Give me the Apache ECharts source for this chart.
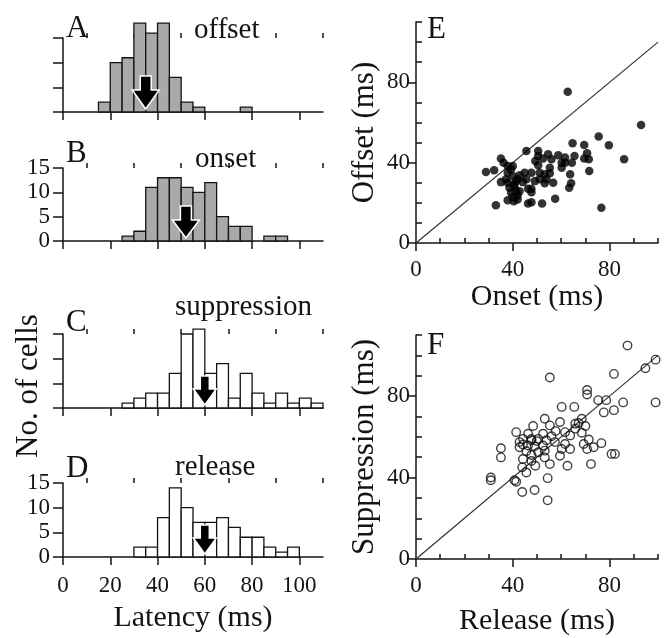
<!DOCTYPE html>
<html>
<head>
<meta charset="utf-8">
<script src="https://cdn.jsdelivr.net/npm/echarts@6/dist/echarts.min.js"></script>
<style>html,body{margin:0;padding:0;background:#fff}#chart{width:669px;height:638px}</style>
</head>
<body>
<div id="chart"></div>
<script>
// ---------- data ----------
const binStarts = [0,5,10,15,20,25,30,35,40,45,50,55,60,65,70,75,80,85,90,95,100,105];
const binWidth = 5;
const offsetCounts      = [0,0,0,2,10,11,18,16,18,7,2,1,0,0,0,1,0,0,0,0,0,0];
const onsetCounts       = [0,0,0,0,0,1,2,11,13,13,11,10,12,5,3,3,0,1,1,0,0,0];
const suppressionCounts = [0,0,0,0,0,1,2,3,3,7,15,16,7,9,2,7,3,1,3,1,2,1];
const releaseCounts     = [0,0,0,0,0,0,2,2,8,14,10,7,7,8,6,4,4,2,1,2,0,0];
const meanLatency = [35, 52, 60, 60]; // arrows: offset, onset, suppression, release
const panelNames = ['offset', 'onset', 'suppression', 'release'];
const panelLetters = ['A', 'B', 'C', 'D'];

const latencyMajorTicks = [0,20,40,60,80,100];
const latencyMinorTicks = [10,30,50,70,90,110];
const countTicks = [0,5,10,15];

const eOnset  = [62.7,93,75.5,79.7,86,64.7,69.5,70.7,71.4,69.5,71.6,76.6,63.7,64.1,63.3,57.5,52.1,47.7,46.3,33,40.4,42,37.9,45.6,50.5,50.5,54.6,58.8,61.6,65.5,64.4,60.2,56,52.5,49.3,50.5,55.3,55.3,53.9,51.1,56.7,53.2,44.9,45.6,49.1,47.7,46.3,47.7,44.2,41.4,40,37.9,35.1,36.2,40,39.3,37.9,28.9,32.3,35.1,37.9,40.7,41.4,39.3,42,40,38.6,37.2,42.8,47.7,60.2,61.6,53.2,51.1,42,40.4,42.8];
const eOffset = [75.3,58.7,53,48.7,41.7,49.7,48.8,44.7,41.7,42,35.8,17.5,34.2,29.7,27.5,22,19.7,20.3,19.7,18.8,20.8,21.7,21.3,45.8,45.8,43.3,44.2,43.7,42.5,43.3,40,40,41.7,42,40.8,38.7,37.5,34.7,31.7,31.7,30,29.7,35,31.7,30.8,27,27,25.3,30.3,30.8,33.3,35,42,40,38.3,36.7,38.3,35.3,36.2,30.3,30,28.3,25.8,25,23.7,22.8,27.5,31.7,33.7,35,37.5,40,34.2,35,31.7,29.2,25.8];

const fRelease     = [87.4,99,94.8,81.8,55.3,70.7,70.7,75.3,78.6,99,85.6,77.6,81.8,60.2,65.4,53.2,59.5,68.5,67.2,70,65.8,55.3,48.4,41.4,46.3,52.5,56,61.6,63.7,68.5,44.2,50.5,47.7,53.9,57.4,61.6,71.4,44.2,46.3,49,52.5,42.8,69.3,76.6,73.4,70.7,35.1,35.1,50.5,53.2,60.2,63.7,59.5,47.7,44.2,53.2,80.8,82.2,47.7,55.3,62.6,72.3,49.3,43.9,45.6,30.9,30.9,40.7,41.4,54.4,43.9,49,54.4,47.7,42.8,57.7,65.8,45.6,49.9];
const fSuppression = [104.8,97.9,93.7,90.9,89.1,83,80.8,78,78,76.9,76.9,72,73.1,74.7,74.7,68.9,67.3,68.9,66.8,65.3,66.4,65.6,65.3,62.3,61.5,61.5,60.3,62.3,60.7,62,59,59,58.3,58.3,57.4,56.5,58.7,56.2,55.7,55.4,55.7,54.9,56.5,56.9,54.9,54,54.4,49.9,52.4,53.2,54,54,50.7,51.1,49.1,49.9,51.6,51.6,48.1,46.6,45.8,46.6,45.8,45,42.5,40,38.7,38.7,37.9,39.7,32.9,33.9,28.8,59,57.4,62.8,64,52.9,57.9];

const identityLine = [0, 100];
const scatterMajorTicks = [0,40,80];
const scatterXMinorTicks = [10,20,30,50,60,70,90,100];
const scatterYMinorTicks = [10,20,30,50,60,70,90,100,110];

// ---------- layout / style ----------
const FONT = '"Liberation Serif", "DejaVu Serif", serif';
const INK = '#141414';
const histGrids = [
  {left: 63, top: 38, width: 260, height: 74},
  {left: 63, top: 168, width: 260, height: 73},
  {left: 63, top: 334, width: 260, height: 74},
  {left: 63, top: 483, width: 260, height: 74}
];
const scatGrids = [
  {left: 416, top: 22, width: 242, height: 221},
  {left: 416, top: 335, width: 242, height: 224}
];
const histCounts = [offsetCounts, onsetCounts, suppressionCounts, releaseCounts];

const grid = histGrids.concat(scatGrids);
const xAxis = [], yAxis = [], series = [];
const axisLine = {show: true, lineStyle: {color: INK, width: 1.5}};
const tickStyle = {color: INK, width: 1.5};

// histogram x axes: major (0-3), minor overlays (4-7)
for (let i = 0; i < 4; i++) {
  xAxis.push({
    gridIndex: i, type: 'value', min: 0, max: 110,
    axisLine: axisLine,
    axisTick: {show: true, customValues: latencyMajorTicks, length: 8, lineStyle: tickStyle},
    axisLabel: {show: i === 3, customValues: latencyMajorTicks, fontFamily: FONT, fontSize: 23, color: INK, margin: 17},
    splitLine: {show: false},
    name: i === 3 ? 'Latency (ms)' : '',
    nameLocation: 'middle', nameGap: 46,
    nameTextStyle: {fontFamily: FONT, fontSize: 30, color: INK}
  });
}
for (let i = 0; i < 4; i++) {
  xAxis.push({
    gridIndex: i, type: 'value', min: 0, max: 110,
    axisLine: {show: false},
    axisTick: {show: true, customValues: latencyMinorTicks, length: 5, lineStyle: tickStyle},
    axisLabel: {show: false},
    splitLine: {show: false}
  });
}
for (let i = 0; i < 4; i++) {
  yAxis.push({
    gridIndex: i, type: 'value', min: 0, max: 15, interval: 5,
    axisLine: axisLine,
    axisTick: {show: true, length: 10, lineStyle: tickStyle},
    axisLabel: {show: i === 1 || i === 3, fontFamily: FONT, fontSize: 23, color: INK, margin: 13, padding: [0,0,12,0]},
    splitLine: {show: false}
  });
}
// scatter axes: x major 8,9 ; x minor 10,11 ; y major 4,5 ; y minor 6,7
const scatXNames = ['Onset (ms)', 'Release (ms)'];
const scatYNames = ['Offset (ms)', 'Suppression (ms)'];
const scatXGap = [38, 47];
for (let k = 0; k < 2; k++) {
  xAxis.push({
    gridIndex: 4 + k, type: 'value', min: 0, max: 100,
    axisLine: axisLine,
    axisTick: {show: true, customValues: scatterMajorTicks, length: 8, lineStyle: tickStyle},
    axisLabel: {customValues: scatterMajorTicks, fontFamily: FONT, fontSize: 23, color: INK, margin: 15},
    splitLine: {show: false},
    name: scatXNames[k], nameLocation: 'middle', nameGap: scatXGap[k],
    nameTextStyle: {fontFamily: FONT, fontSize: 30, color: INK}
  });
}
for (let k = 0; k < 2; k++) {
  xAxis.push({
    gridIndex: 4 + k, type: 'value', min: 0, max: 100,
    axisLine: {show: false},
    axisTick: {show: true, customValues: scatterXMinorTicks, length: 5, lineStyle: tickStyle},
    axisLabel: {show: false}, splitLine: {show: false}
  });
}
for (let k = 0; k < 2; k++) {
  yAxis.push({
    gridIndex: 4 + k, type: 'value', min: 0, max: 110,
    axisLine: axisLine,
    axisTick: {show: true, customValues: scatterMajorTicks, length: 7, lineStyle: tickStyle},
    axisLabel: {customValues: scatterMajorTicks, fontFamily: FONT, fontSize: 23, color: INK, margin: 6, padding: [0,0,4,0]},
    splitLine: {show: false},
    name: scatYNames[k], nameLocation: 'middle', nameGap: 36, nameRotate: 90,
    nameTextStyle: {fontFamily: FONT, fontSize: 31, color: INK}
  });
}
for (let k = 0; k < 2; k++) {
  yAxis.push({
    gridIndex: 4 + k, type: 'value', min: 0, max: 110,
    axisLine: {show: false},
    axisTick: {show: true, customValues: scatterYMinorTicks, length: 6, lineStyle: tickStyle},
    axisLabel: {show: false}, splitLine: {show: false}
  });
}

// histogram bars + arrows
const arrowSize = [
  {h: 33, hw: 13.5, hh: 19, sw: 5.5},
  {h: 32, hw: 13.5, hh: 18, sw: 5.5},
  {h: 29, hw: 11.5, hh: 16, sw: 4.5},
  {h: 29, hw: 11.5, hh: 16, sw: 4.5}
];
for (let i = 0; i < 4; i++) {
  const filled = i < 2;
  series.push({
    type: 'custom', xAxisIndex: i, yAxisIndex: i, z: 2,
    data: binStarts.map((b, j) => [b, histCounts[i][j]]),
    renderItem: function (params, api) {
      const x0 = api.value(0), c = api.value(1);
      if (!c) return null;
      const p0 = api.coord([x0, c]);
      const p1 = api.coord([x0 + binWidth, 0]);
      return {type: 'rect', shape: {x: p0[0], y: p0[1], width: p1[0] - p0[0], height: p1[1] - p0[1]},
        style: {fill: filled ? '#a9a9a9' : '#ffffff', stroke: INK, lineWidth: 1.3}};
    }
  });
  const s = arrowSize[i];
  series.push({
    type: 'custom', xAxisIndex: i, yAxisIndex: i, z: 5,
    data: [[meanLatency[i], 0]],
    renderItem: function (params, api) {
      const p = api.coord([api.value(0), 0]);
      const x = p[0], tip = p[1] - 3;
      const pts = [[x, tip], [x - s.hw, tip - s.hh], [x - s.sw, tip - s.hh], [x - s.sw, tip - s.h],
                   [x + s.sw, tip - s.h], [x + s.sw, tip - s.hh], [x + s.hw, tip - s.hh]];
      return {type: 'polygon', shape: {points: pts}, style: {fill: '#000', stroke: '#fff', lineWidth: 1.5}};
    }
  });
}
// scatter panels
series.push({type: 'line', xAxisIndex: 8, yAxisIndex: 4, data: [[identityLine[0], identityLine[0]], [identityLine[1], identityLine[1]]],
  symbol: 'none', lineStyle: {color: '#333', width: 1.2}, z: 1, silent: true});
series.push({type: 'scatter', xAxisIndex: 8, yAxisIndex: 4, data: eOnset.map((x, j) => [x, eOffset[j]]),
  symbolSize: 8.5, itemStyle: {color: '#000'}, z: 3});
series.push({type: 'line', xAxisIndex: 9, yAxisIndex: 5, data: [[identityLine[0], identityLine[0]], [identityLine[1], identityLine[1]]],
  symbol: 'none', lineStyle: {color: '#333', width: 1.2}, z: 1, silent: true});
series.push({type: 'scatter', xAxisIndex: 9, yAxisIndex: 5, data: fRelease.map((x, j) => [x, fSuppression[j]]),
  symbolSize: 8.5, itemStyle: {color: 'rgba(0,0,0,0)', borderColor: '#111', borderWidth: 1.4}, z: 3});

// titles
const titleFont = {fontFamily: FONT, fontSize: 29, fontWeight: 'normal', color: INK};
const letterFont = {fontFamily: FONT, fontSize: 31, fontWeight: 'normal', color: INK};
const letterTops = [13, 138, 307, 453];
const nameLefts = [194, 195, 175, 175];
const nameTops = [16, 145, 293, 453];
const title = [];
for (let i = 0; i < 4; i++) {
  title.push({text: panelLetters[i], left: 66, top: letterTops[i], padding: 0, textStyle: letterFont});
  title.push({text: panelNames[i], left: nameLefts[i], top: nameTops[i], padding: 0, textStyle: titleFont});
}
title.push({text: 'E', left: 427, top: 14, padding: 0, textStyle: letterFont});
title.push({text: 'F', left: 427, top: 330, padding: 0, textStyle: letterFont});

const chart = echarts.init(document.getElementById('chart'), null, {renderer: 'canvas'});
chart.setOption({
  backgroundColor: '#ffffff',
  animation: false,
  title: title,
  grid: grid,
  xAxis: xAxis,
  yAxis: yAxis,
  series: series,
  graphic: [{type: 'text', x: 29, y: 386, rotation: Math.PI / 2,
    style: {text: 'No. of cells', fontFamily: FONT, fontSize: 31, fill: INK, align: 'center', verticalAlign: 'middle'}}]
});
</script>
</body>
</html>
